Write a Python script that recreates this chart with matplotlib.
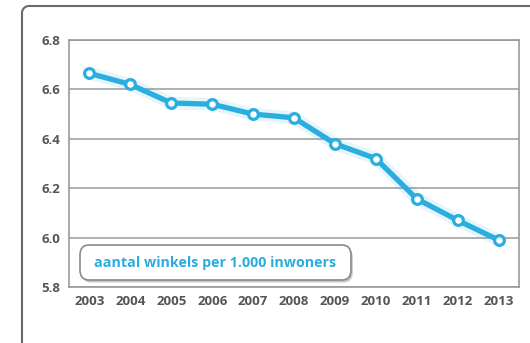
import matplotlib
matplotlib.use("Agg")
import matplotlib.pyplot as plt
from matplotlib.patches import FancyBboxPatch
from matplotlib.lines import Line2D
import numpy as np

years = ["2003", "2004", "2005", "2006", "2007", "2008", "2009", "2010", "2011", "2012", "2013"]
shops_per_1000 = [6.665, 6.62, 6.545, 6.54, 6.50, 6.485, 6.38, 6.32, 6.157, 6.07, 5.99]
y_ticks = [5.8, 6.0, 6.2, 6.4, 6.6, 6.8]
y_labels = ["5.8", "6.0", "6.2", "6.4", "6.6", "6.8"]
legend_text = "aantal winkels per 1.000 inwoners"

line_color = "#2aaddf"
tick_color = "#555555"
grid_color = "#9a9a9a"
font = ["Open Sans", "DejaVu Sans"]

W, H = 530, 343
fig = plt.figure(figsize=(W / 100, H / 100), dpi=100, facecolor="white")

# outer card: left and top edge with a rounded corner (figure pixel coords)
r = 7
cx, cy = 22 + r, H - 6 - r
t = np.linspace(np.pi / 2, np.pi, 20)
xs = [W + 5] + list(cx + r * np.cos(t)) + [22]
ys = [H - 6] + list(cy + r * np.sin(t)) + [-5]
fig.add_artist(Line2D(np.array(xs) / W, np.array(ys) / H,
                      transform=fig.transFigure, color="#6a6a6a", lw=1.5))

ax = fig.add_axes([69 / W, 1 - 287 / H, (519 - 69) / W, (287 - 40) / H])
ax.set_facecolor("none")
x = list(range(len(years)))

ax.set_xlim(-0.5, len(years) - 0.5)
ax.set_ylim(5.8, 6.8)
ax.set_yticks(y_ticks)
ax.set_yticklabels(y_labels)
ax.set_xticks(x)
ax.set_xticklabels(years)
for lab in ax.get_xticklabels() + ax.get_yticklabels():
    lab.set_family(font)
    lab.set_fontweight("bold")
    lab.set_fontsize(9.5)
    lab.set_color(tick_color)
ax.tick_params(length=0, pad=6)

for s in ax.spines.values():
    s.set_color(grid_color)
    s.set_linewidth(1.2)
ax.grid(axis="y", color=grid_color, lw=1.1)
ax.set_axisbelow(True)

# soft halo then the main line
ax.plot(x, shops_per_1000, color=line_color, lw=9, alpha=0.12,
        solid_capstyle="round", zorder=2)
ax.plot(x, shops_per_1000, color=line_color, lw=3.8, marker="o",
        markersize=7, markerfacecolor="white", markeredgecolor=line_color,
        markeredgewidth=2.3, zorder=3)

# label box with drop shadow
bx0, bx1, by0, by1 = 80, 351, 245, 280
to_ax = lambda px, py: ((px - 69) / (519 - 69), (287 - py) / (287 - 40))
x0, y0 = to_ax(bx0, by1)
x1, y1 = to_ax(bx1, by0)
shadow = FancyBboxPatch((x0 + 0.004, y0 - 0.01), x1 - x0, y1 - y0,
                        boxstyle="round,pad=0,rounding_size=0.02",
                        transform=ax.transAxes, fc="#c8c8c8", ec="none",
                        zorder=4, mutation_aspect=2)
box = FancyBboxPatch((x0, y0), x1 - x0, y1 - y0,
                     boxstyle="round,pad=0,rounding_size=0.02",
                     transform=ax.transAxes, fc="white", ec="#8a8a8a",
                     lw=1.2, zorder=5, mutation_aspect=2)
ax.add_patch(shadow)
ax.add_patch(box)
ax.text((x0 + x1) / 2, (y0 + y1) / 2, legend_text, transform=ax.transAxes,
        ha="center", va="center", color=line_color, fontsize=10.3,
        fontweight="bold", family=font, zorder=6)

fig.savefig("out.png", dpi=100, facecolor="white")
